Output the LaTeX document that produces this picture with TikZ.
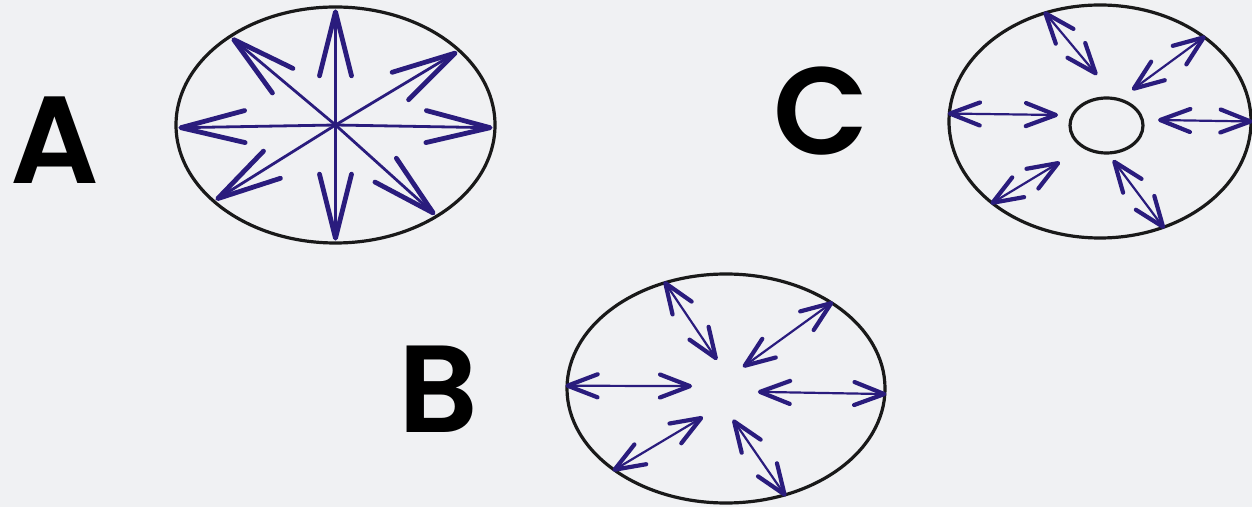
\documentclass[tikz,border=0pt]{standalone}
\usepackage{fontspec}
\newfontfamily\letterfont{Poppins SemiBold}
\usetikzlibrary{positioning,arrows.meta,shapes.geometric,calc}
\definecolor{paper}{RGB}{240,241,243}
\definecolor{arrowblue}{RGB}{42,28,125}

\begin{document}
\begin{tikzpicture}[
    x=0.5pt, y=-0.5pt,
    oval/.style={draw=black!90, ellipse, line width=1.6pt, inner sep=0pt},
    letter/.style={inner sep=0pt, font=\letterfont\fontsize{62}{62}\selectfont},
    starArrow/.style={draw=arrowblue, line width=1.4pt, shorten >=2pt,
        -{Straight Barb[length=32pt,width=16pt,line width=2.4pt,round]}},
    twoWay/.style={draw=arrowblue, line width=1.1pt,
        {Straight Barb[length=15pt,width=11.5pt,line width=2.1pt,round]}-{Straight Barb[length=15pt,width=11.5pt,line width=2.1pt,round]}}
]
\path[use as bounding box, fill=paper] (0,0) rectangle (1252,507);

% the three ovals and their letters
\node[oval, minimum width=159.5pt, minimum height=118pt] (ellA) at (335.5,125) {};
\node[oval, minimum width=159pt, minimum height=114.5pt] (ellB) at (726,388.5) {};
\node[oval, minimum width=151pt, minimum height=116.5pt] (ellC) at (1100,121.5) {};
\node[oval, minimum width=36.5pt, minimum height=27.5pt] (hole) at (1106.5,125.5) {};
\node[letter] (labA) at (55,140) {A};
\node[letter] (labB) at (438,389) {B};
\node[letter] (labC) at (821,111) {C};

% A: arrows out from the centre
\draw[starArrow] (ellA.center) -- (ellA.90);
\draw[starArrow] (ellA.center) -- (ellA.270);
\draw[starArrow] (ellA.center) -- (ellA.181);
\draw[starArrow] (ellA.center) -- (ellA.359);
\draw[starArrow] (ellA.center) -- (ellA.140.4);
\draw[starArrow] (ellA.center) -- (ellA.31.5);
\draw[starArrow] (ellA.center) -- (ellA.212.5);
\draw[starArrow] (ellA.center) -- (ellA.318.3);

% B: two-way arrows, empty centre
\draw[twoWay] (ellB.179) -- ($(ellB.center)+(176:17pt)$);
\draw[twoWay] (ellB.358.7) -- ($(ellB.center)+(354:16pt)$);
\draw[twoWay] (ellB.120.6) -- ($(ellB.center)+(107.5:15pt)$);
\draw[twoWay] (ellB.39.6) -- ($(ellB.center)+(51.7:13.7pt)$);
\draw[twoWay] (ellB.216.8) -- ($(ellB.center)+(231:18.3pt)$);
\draw[twoWay] (ellB.299) -- ($(ellB.center)+(282.5:16pt)$);

% C: two-way arrows round the hole
\draw[twoWay] (ellC.177.5) -- ($(hole.center)+(167.8:24.8pt)$);
\draw[twoWay] (ellC.0) -- ($(hole.center)+(6.1:25.9pt)$);
\draw[twoWay] (ellC.117.5) -- ($(hole.center)+(100.7:25.7pt)$);
\draw[twoWay] (ellC.39) -- ($(hole.center)+(54.3:21.9pt)$);
\draw[twoWay] (ellC.217) -- ($(hole.center)+(218.1:29.6pt)$);
\draw[twoWay] (ellC.301.3) -- ($(hole.center)+(280.7:17.6pt)$);
\end{tikzpicture}
\end{document}
